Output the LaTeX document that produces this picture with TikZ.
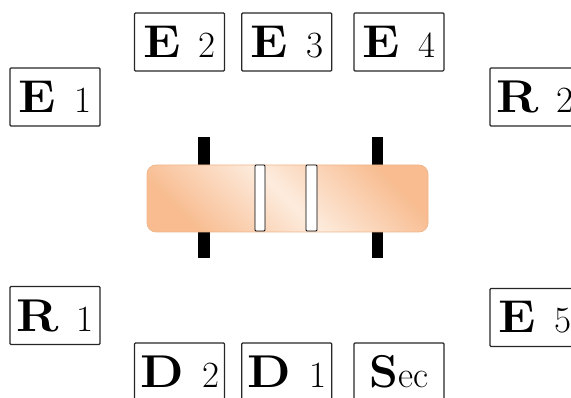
\documentclass[tikz,border=0pt]{standalone}
\usepackage{graphicx}
\usetikzlibrary{positioning}

\definecolor{bodyorange}{RGB}{248,188,144}
\definecolor{bodylight}{RGB}{253,236,222}
\definecolor{bodyedge}{RGB}{240,182,138}

% letter with its smaller index
\newcommand{\lab}[2]{\scalebox{1.1}[1]{\bfseries #1}\hspace{0.4em}{\fontsize{37}{37}\selectfont #2}}

\begin{document}
\begin{tikzpicture}[x=1pt, y=-1pt,
    lbl/.style={draw=black!85, line width=1.2pt, rounded corners=1pt, minimum width=90pt,
      minimum height=58pt, inner sep=0pt, font=\fontsize{46}{46}\selectfont},
    lead/.style={fill=black, inner sep=0pt, minimum height=121pt},
    body/.style={draw=bodyedge, line width=0.7pt, rounded corners=9pt, inner sep=0pt,
      minimum width=281pt, minimum height=67pt, left color=bodyorange,
      right color=bodyorange, middle color=bodylight, shading angle=135},
    stripe/.style={draw, fill=white, line width=0.8pt, rounded corners=1pt, inner sep=0pt,
      minimum height=66pt}]
  \clip (0,0) rectangle (571,398);

  % labels round the resistor
  \node[lbl] (e1) at (55,97) {\lab{E}{1}};
  \node[lbl] (e2) at (179.5,42) {\lab{E}{2}};
  \node[lbl, right=16pt of e2] (e3) {\lab{E}{3}};
  \node[lbl, right=21pt of e3] (e4) {\lab{E}{4}};
  \node[lbl] (r2) at (535,97) {\lab{R}{2}};
  \node[lbl] (r1) at (55,315.5) {\lab{R}{1}};
  \node[lbl] (d2) at (179.5,372) {\lab{D}{2}};
  \node[lbl, right=16pt of d2] (d1) {\lab{D}{1}};
  \node[lbl, right=21pt of d1] (sec) {{\bfseries S}{\fontsize{37}{37}\selectfont ec}};
  \node[lbl] (e5) at (535,317.5) {\lab{E}{5}};

  % the resistor: leads, body, stripes
  \node[lead, minimum width=12pt] (lead1) at (204,197.5) {};
  \node[lead, minimum width=11pt] (lead2) at (377.5,197.5) {};
  \node[body] (res) at (287.5,198.5) {};
  \node[stripe, minimum width=10pt] (s1) at (260,198) {};
  \node[stripe, minimum width=11pt] (s2) at (311.5,198) {};
\end{tikzpicture}
\end{document}
